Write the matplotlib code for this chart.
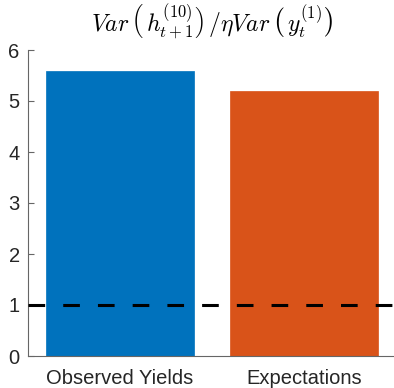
import matplotlib.pyplot as plt
import numpy as np

plt.rcParams['font.family'] = ['Liberation Sans', 'DejaVu Sans']
plt.rcParams['mathtext.fontset'] = 'cm'
plt.rcParams['lines.scale_dashes'] = False

categories = ['Observed Yields', 'Expectations']
ratios = [5.59, 5.20]
bar_colors = ['#0072BD', '#D95319']
reference_level = 1.0
y_ticks = [0, 1, 2, 3, 4, 5, 6]

fig = plt.figure(figsize=(3.94, 3.88), dpi=100)
ax = fig.add_axes([28 / 394, 32 / 388, 368 / 394, 306 / 388])

x = np.arange(1, len(categories) + 1)
ax.bar(x, ratios, width=0.8, color=bar_colors, edgecolor=bar_colors, linewidth=0.5, zorder=2)

# unit-ratio reference line
ax.plot([0.5, 2.5], [reference_level, reference_level], color='black', linewidth=2.2,
        dashes=(12, 13), zorder=3, clip_on=False)

ax.set_xlim(0.5, 2.5)
ax.set_ylim(0, 6)
ax.set_xticks(x)
ax.set_xticklabels(categories)
ax.set_yticks(y_ticks)

for side in ['top', 'right']:
    ax.spines[side].set_visible(False)
for side in ['left', 'bottom']:
    ax.spines[side].set_color('#666666')
    ax.spines[side].set_linewidth(0.8)

ax.tick_params(axis='both', direction='in', length=4, width=0.8, color='#666666',
               labelsize=14.5, labelcolor='#262626')
ax.tick_params(axis='x', pad=9)
ax.tick_params(axis='y', pad=6)

ax.set_title(r'$Var\,\left(\,h_{t+1}^{(10)}\right)\,/\eta Var\,\left(\,y_t^{(1)}\right)$',
             fontsize=17, pad=13)

fig.savefig('out.png', dpi=100)
